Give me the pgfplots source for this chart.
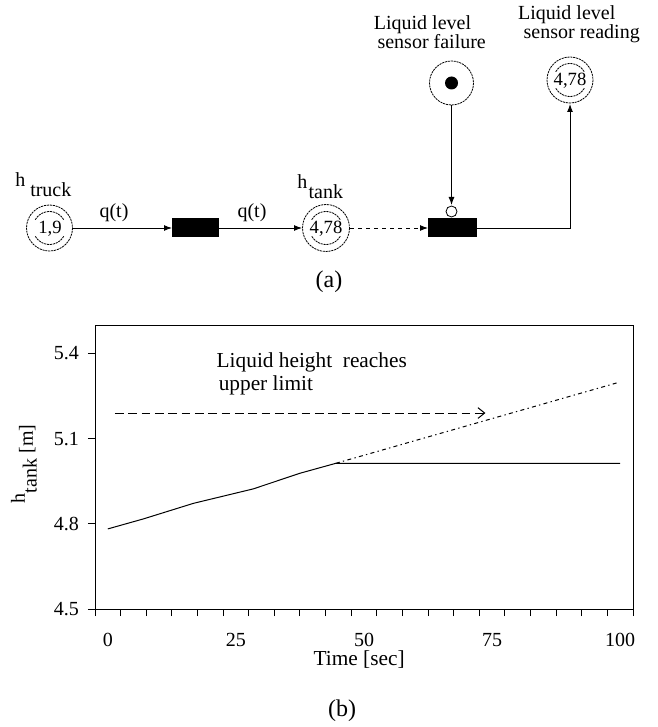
\documentclass[border=0pt]{standalone}
\usepackage{pgfplots}
\pgfplotsset{compat=1.18}
\usepackage{fontspec}
\setmainfont{Liberation Serif}
\usetikzlibrary{arrows.meta}
\begin{document}
\begin{tikzpicture}
\begin{scope}[x=0.75pt,y=-0.75pt, font=\fontsize{15}{18}\selectfont]
\path[use as bounding box] (0,0) rectangle (657,727);
\tikzset{
  pl/.style={draw, line width=0.6pt, dash pattern=on 1.6pt off 0.6pt},
  parc/.style={line width=0.75pt, -{Latex[length=6pt,width=4.5pt]}},
}
% place h_truck
\draw[pl] (49.5,228) circle[radius=23];
\draw[pl] (49.5,228) ++(30:16.5) arc[start angle=30,end angle=150,radius=16.5];
\draw[pl] (49.5,228) ++(210:16.5) arc[start angle=210,end angle=330,radius=16.5];
\node[font=\fontsize{14}{16}\selectfont] at (50,228.5) {1,9};
\node[anchor=base west, inner sep=0] at (15,186.7) {h};
\node[anchor=base west, inner sep=0] at (30,196.7) {truck};
% place h_tank
\draw[pl] (326,228) circle[radius=23.5];
\draw[pl] (326,228) ++(30:16.5) arc[start angle=30,end angle=150,radius=16.5];
\draw[pl] (326,228) ++(210:16.5) arc[start angle=210,end angle=330,radius=16.5];
\node[font=\fontsize{14}{16}\selectfont] at (326,228.5) {4,78};
\node[anchor=base west, inner sep=0] at (297,188.3) {h};
\node[anchor=base west, inner sep=0] at (308.3,198.3) {tank};
% place sensor failure
\draw[pl] (451.5,83) circle[radius=22];
\fill (451.5,83) circle[radius=6.5];
\node[anchor=base, inner sep=0] at (422.5,30) {Liquid level};
\node[anchor=base, inner sep=0] at (431.7,49) {sensor failure};
% place sensor reading
\draw[pl] (570,80) circle[radius=23];
\draw[pl] (570,80) ++(30:16.5) arc[start angle=30,end angle=150,radius=16.5];
\draw[pl] (570,80) ++(210:16.5) arc[start angle=210,end angle=330,radius=16.5];
\node[font=\fontsize{14}{16}\selectfont] at (570,80.5) {4,78};
\node[anchor=base, inner sep=0] at (566.7,20) {Liquid level};
\node[anchor=base, inner sep=0] at (581.7,39) {sensor reading};
% transitions
\fill (172,218) rectangle (219,237);
\fill (428,218) rectangle (477,237);
% arcs
\draw[parc] (72.5,228) -- (172,228);
\node at (114,213) {q(t)};
\draw[parc] (219,228) -- (302,228);
\node at (252,213) {q(t)};
\draw[parc, dash pattern=on 3pt off 3pt] (350,228) -- (428,228);
\draw[parc] (451.5,105) -- (451.5,205);
\draw[fill=white, line width=0.6pt] (451.5,211.5) circle[radius=5.5];
\draw[parc] (477,228) -| (570,104);
\node[font=\fontsize{18}{21}\selectfont] at (329,281.5) {(a)};
\node[font=\fontsize{18}{21}\selectfont] at (342,711) {(b)};
\end{scope}
\begin{axis}[
  at={(71.25pt,-456.75pt)}, anchor=south west,
  scale only axis, width=403.5pt, height=213pt,
  xmin=-2.5, xmax=102.5, ymin=4.5, ymax=5.5,
  axis line style={line width=0.75pt},
  xtick={0,25,50,75,100},
  minor xtick={-2.5,2.5,...,102.5},
  ytick={4.5,4.8,5.1,5.4},
  xtick pos=left, ytick pos=left,
  tick align=outside,
  major tick length=5.25pt, minor tick length=5.25pt,
  major x tick style={draw=none},
  tick style={black, line width=0.75pt},
  /pgf/number format/assume math mode=true,
  ticklabel style={font=\fontsize{15}{18}\selectfont},
  yticklabel style={/pgf/number format/fixed, /pgf/number format/precision=1, /pgf/number format/fixed zerofill},
  xticklabel shift=9.5pt,
  yticklabel shift=3.25pt,
  xlabel={Time [sec]},
  xlabel style={at={(axis description cs:0.491,-0.1796)}, anchor=center, font=\fontsize{16}{19}\selectfont},
  ylabel={h\raisebox{-8.75pt}{tank}\raisebox{-6pt}{ [m]}},
  ylabel style={at={(axis description cs:-0.132,0.511)}, anchor=center, font=\fontsize{15}{18}\selectfont},
]
\addplot[black, line width=0.75pt] coordinates {(0,4.782) (6.9,4.817) (16.7,4.872) (28.4,4.923) (37.5,4.978) (44.5,5.013) (100,5.013)};
\addplot[black, line width=0.75pt, dash pattern=on 3pt off 2.5pt on 1pt off 2.5pt] coordinates {(44.5,5.013) (99.5,5.297)};
\addplot[black, line width=0.75pt, dash pattern=on 6.5pt off 3.5pt, -{Straight Barb[length=5pt,width=8pt]}] coordinates {(1.4,5.19) (73.7,5.19)};
\node[anchor=base west, inner sep=0, font=\fontsize{16}{19}\selectfont] at (axis cs:21.2,5.349) {Liquid height\ \ reaches};
\node[anchor=base west, inner sep=0, font=\fontsize{16}{19}\selectfont] at (axis cs:21.6,5.271) {upper limit};
\end{axis}
\end{tikzpicture}
\end{document}
